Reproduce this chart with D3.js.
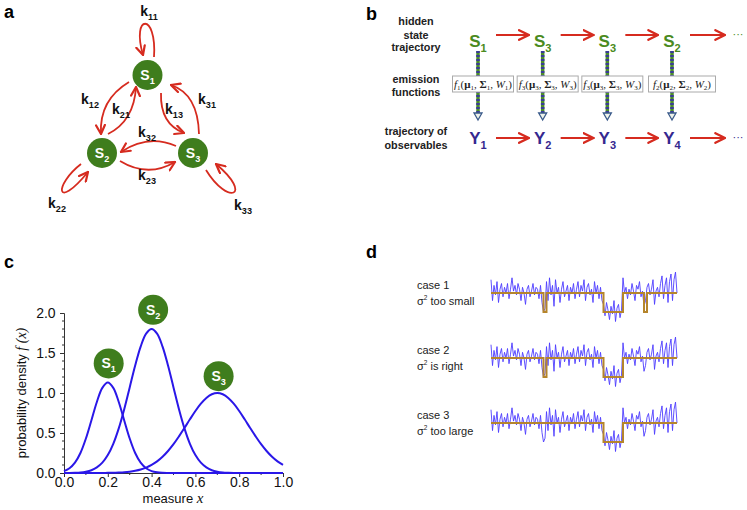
<!DOCTYPE html>
<html>
<head>
<meta charset="utf-8">
<script src="https://cdn.jsdelivr.net/npm/d3@7"></script>
<style>
body { margin: 0; background: #fff; }
svg { display: block; }
text { font-family: "Liberation Sans", Arial, sans-serif; }
</style>
</head>
<body>
<svg id="fig" width="747" height="510"></svg>
<script>
// ---- data ----
// panel a: transition rates k_ij
var rateLabels = ['11', '12', '21', '13', '31', '32', '23', '22', '33'];
// panel b: hidden states and observables
var hiddenStates = [1, 3, 3, 2];
var observables = [1, 2, 3, 4];
// panel c: emission densities (x step 0.025)
var measureX = d3.range(41).map(function(i) { return i / 40; });
var densityS1 = [0.024, 0.059, 0.129, 0.250, 0.431, 0.657, 0.888, 1.064, 1.130, 1.064,
    0.888, 0.657, 0.431, 0.250, 0.129, 0.059, 0.024, 0.009, 0.003, 0.001,
    0, 0, 0, 0, 0, 0, 0, 0, 0, 0, 0, 0, 0, 0, 0, 0, 0, 0, 0, 0, 0];
var densityS2 = [0.000, 0.001, 0.003, 0.007, 0.017, 0.035, 0.070, 0.129, 0.224, 0.365,
    0.558, 0.798, 1.070, 1.343, 1.580, 1.742, 1.800, 1.742, 1.580, 1.343,
    1.070, 0.798, 0.558, 0.365, 0.224, 0.129, 0.070, 0.035, 0.017, 0.007,
    0.003, 0.001, 0, 0, 0, 0, 0, 0, 0, 0, 0];
var densityS3 = [0, 0, 0, 0, 0, 0, 0, 0.001, 0.002, 0.003,
    0.006, 0.010, 0.017, 0.028, 0.044, 0.068, 0.101, 0.145, 0.203, 0.275,
    0.360, 0.458, 0.563, 0.671, 0.775, 0.866, 0.938, 0.984, 1.000, 0.984,
    0.938, 0.866, 0.775, 0.671, 0.563, 0.458, 0.360, 0.275, 0.203, 0.145, 0.101];
var densities = [densityS1, densityS2, densityS3];
var stateLabelPos = [[0.204, 1.37], [0.407, 2.04], [0.706, 1.21]];
var xTicks = [0, 0.2, 0.4, 0.6, 0.8, 1.0];
var yTicks = [0, 0.5, 1.0, 1.5, 2.0];
// panel d: observed trace (high state = 1, low state = 0)
var trace = [1.7, 0.6, 1.4, 0.9, 1.6, 0.5, 1.2, 1.5, 0.8, 1.3,
    1.0, 1.5, 0.7, 1.2, 1.8, 1.1, 1.4, 0.9, 1.5, 1.2,
    0.6, 1.3, 1.0, 0.4, 1.2, 1.4, 0.8, 1.1, 1.5, 0.9,
    1.3, 1.2, 0.7, 1.4, 0.5, 0.0, 0.2, 1.6, 0.6, 1.8,
    0.9, 1.4, 0.3, 1.7, 1.0, 1.3, 0.5, 1.2, 1.6, 0.8,
    1.1, 1.4, 0.6, 1.3, 1.0, 1.5, 0.7, 1.2, 1.6, 0.8,
    1.4, 1.1, 1.7, 0.6, 1.3, 1.5, 0.9, 1.2, 0.5, 1.6,
    1.0, 1.4, 0.7, 1.3, 0.6, 0.4, -0.2, 0.5, 0.1, -0.4,
    0.3, -0.1, 0.6, -0.5, 0.2, 0.4, -0.3, 0.1, 1.8, 1.0,
    1.3, 0.7, 1.2, 0.9, 1.5, 1.1, 0.6, 1.4, 1.2, 1.6,
    0.8, 1.1, 0.3, 0.6, 1.3, 1.5, 0.9, 1.2, 1.7, 0.4,
    1.1, 1.3, 0.8, 1.5, 1.9, 0.7, 1.4, 1.8, 0.5, 1.6,
    2.0, 0.6, 1.7, 2.1, 1.0];
// fitted levels as [start index, level]
var fitCase1 = [[0, 1], [35, 0], [37, 1], [75, 0], [88, 1], [102, 0], [104, 1], [124, 1]];
var fitCase2 = [[0, 1], [35, 0], [37, 1], [75, 0], [88, 1], [124, 1]];
var fitCase3 = [[0, 1], [75, 0], [88, 1], [124, 1]];
var caseFits = [fitCase1, fitCase2, fitCase3];
var caseNames = ['case 1', 'case 2', 'case 3'];
var caseNotes = [' too small', ' is right', ' too large'];

// ---- styles ----
var red = '#d62b1f';
var green = '#3f7d1d';
var greenText = '#4a8a20';
var navy = '#35288f';
var curveBlue = '#2a17e8';
var traceBlue = '#4d3cff';
var fitBrown = '#b5852c';

var svg = d3.select('#fig');
var defs = svg.append('defs');

function chevron(id, size, color) {
    defs.append('marker')
        .attr('id', id)
        .attr('viewBox', '0 0 10 10')
        .attr('refX', 9)
        .attr('refY', 5)
        .attr('markerWidth', size)
        .attr('markerHeight', size)
        .attr('markerUnits', 'userSpaceOnUse')
        .attr('orient', 'auto')
        .append('path')
        .attr('d', 'M1,1 L9,5 L1,9')
        .attr('fill', 'none')
        .attr('stroke', color)
        .attr('stroke-width', 2)
        .attr('stroke-linecap', 'round');
}
chevron('chevA', 11, red);
chevron('chevB', 12, red);

// text with a subscript
function subText(g, x, y, main, sub, size, color, weight) {
    var t = g.append('text')
        .attr('x', x)
        .attr('y', y)
        .attr('text-anchor', 'middle')
        .attr('fill', color)
        .attr('font-weight', weight || 'bold')
        .attr('font-size', size);
    t.append('tspan').text(main);
    t.append('tspan')
        .attr('font-size', size * 0.65)
        .attr('dy', size * 0.28)
        .text(sub);
    return t;
}

function panelLetter(x, y, s) {
    svg.append('text')
        .attr('x', x).attr('y', y)
        .attr('font-size', 18)
        .attr('font-weight', 'bold')
        .text(s);
}

panelLetter(4, 18, 'a');
panelLetter(366, 20, 'b');
panelLetter(4, 268, 'c');
panelLetter(366, 258, 'd');

// ---- panel a ----
var ga = svg.append('g');
var nodeX = d3.scaleLinear().domain([0, 1]).range([102, 193]);
var nodeY = d3.scaleLinear().domain([0, 1]).range([75, 153]);
var nodes = [{id: 1, u: 0.5, v: 0}, {id: 2, u: 0, v: 1}, {id: 3, u: 1, v: 1}];

var edgePaths = {
    '11': 'M154,57 C157,12 131,14 143,55',
    '12': 'M129,82 Q99,100 101,134',
    '21': 'M108,134 Q134,121 136,87',
    '13': 'M161,93 Q160,124 184,133',
    '31': 'M199,134 Q198,94 171,85',
    '32': 'M176,146 Q148,134 121,152',
    '23': 'M120,161 Q148,178 175,162',
    '22': 'M81,164 C54,185 55,212 88,172',
    '33': 'M206,170 C228,206 254,196 216,164'
};
var labelPos = {
    '11': [149, 16], '12': [90, 104], '21': [121, 114], '13': [174, 114],
    '31': [207, 104], '32': [147, 137], '23': [147, 180], '22': [57, 208], '33': [243, 210]
};

ga.selectAll('path.edge')
    .data(rateLabels)
    .join('path')
    .classed('edge', true)
    .attr('d', function(d) { return edgePaths[d]; })
    .attr('fill', 'none')
    .attr('stroke', red)
    .attr('stroke-width', 1.8)
    .attr('marker-end', 'url(#chevA)');

rateLabels.forEach(function(d) {
    subText(ga, labelPos[d][0], labelPos[d][1], 'k', d, 14, '#111');
});

var nodeG = ga.selectAll('g.node')
    .data(nodes)
    .join('g')
    .attr('transform', function(d) {
        return 'translate(' + nodeX(d.u) + ',' + nodeY(d.v) + ')';
    });
nodeG.append('circle').attr('r', 15).attr('fill', green);
nodeG.each(function(d) {
    subText(d3.select(this), 0, 5, 'S', d.id, 14, '#fff');
});

// ---- panel b ----
var gb = svg.append('g');
var colX = d3.scaleLinear().domain([0, 3]).range([478, 672]);

var leftLabels = [['hidden', 21], ['state', 35], ['trajectory', 47],
    ['emission', 79], ['functions', 92], ['trajectory of', 131], ['observables', 145]];
gb.selectAll('text.row')
    .data(leftLabels)
    .join('text')
    .classed('row', true)
    .attr('x', 416)
    .attr('y', function(d) { return d[1] + 4; })
    .attr('text-anchor', 'middle')
    .attr('font-size', 10.8)
    .attr('font-weight', 'bold')
    .attr('fill', '#222')
    .text(function(d) { return d[0]; });

// vertical emission arrows
hiddenStates.forEach(function(s, i) {
    var x = colX(i);
    gb.append('line').attr('x1', x).attr('x2', x).attr('y1', 51).attr('y2', 113)
        .attr('stroke', '#4d8f28').attr('stroke-width', 3.5);
    gb.append('line').attr('x1', x).attr('x2', x).attr('y1', 51).attr('y2', 113)
        .attr('stroke', '#3a3a9a').attr('stroke-width', 3.5).attr('stroke-dasharray', '2,2');
    gb.append('path')
        .attr('d', 'M' + (x - 4) + ',113 L' + (x + 4) + ',113 L' + x + ',120 Z')
        .attr('fill', '#eef3ea').attr('stroke', '#3a5a8a').attr('stroke-width', 1.3);
});

// emission function boxes
hiddenStates.forEach(function(s, i) {
    var w = i === 3 ? 67 : 61;
    var cx = colX(i) + (i === 3 ? 10 : 5);
    gb.append('rect')
        .attr('x', cx - w / 2).attr('y', 76).attr('width', w).attr('height', 16)
        .attr('fill', '#fff').attr('stroke', '#aaa').attr('stroke-width', 1);
    var t = gb.append('text')
        .attr('x', cx).attr('y', 87.5)
        .attr('text-anchor', 'middle')
        .attr('font-size', 11)
        .style('font-family', '"Liberation Serif", "Times New Roman", serif')
        .attr('fill', '#222');
    var shift = 0;
    function part(txt, style, weight) {
        t.append('tspan').attr('font-style', style || 'normal')
            .attr('font-weight', weight || 'normal')
            .attr('dy', -shift).text(txt);
        shift = 0;
    }
    function sub() {
        t.append('tspan').attr('font-size', 7).attr('dy', 2).text(s);
        shift = 2;
    }
    part('f', 'italic'); sub();
    part('('); part('\u03bc', 'normal', 'bold'); sub();
    part(', '); part('\u03a3', 'normal', 'bold'); sub();
    part(', '); part('W', 'italic'); sub();
    part(')');
});

// state and observable rows
function chain(labels, letter, yText, yArrow, color) {
    labels.forEach(function(v, i) {
        subText(gb, colX(i), yText, letter, v, 17, color);
        var x1 = colX(i) + 18;
        var x2 = i < labels.length - 1 ? colX(i + 1) - 14 : 725;
        gb.append('line')
            .attr('x1', x1).attr('x2', x2).attr('y1', yArrow).attr('y2', yArrow)
            .attr('stroke', red).attr('stroke-width', 2)
            .attr('marker-end', 'url(#chevB)');
    });
    gb.append('text').attr('x', 738).attr('y', yArrow + 3)
        .attr('text-anchor', 'middle').attr('font-size', 11)
        .attr('fill', color).text('\u00b7\u00b7\u00b7');
}
chain(hiddenStates, 'S', 47, 35, greenText);
chain(observables, 'Y', 144, 138, navy);

// ---- panel c ----
var gc = svg.append('g');
var x = d3.scaleLinear().domain([0, 1]).range([64, 283]);
var y = d3.scaleLinear().domain([0, 2]).range([473, 313]);

var xAxis = gc.append('g')
    .attr('transform', 'translate(0,' + y(0) + ')')
    .call(d3.axisBottom(x).tickValues(xTicks).tickFormat(d3.format('.1f')).tickSize(4));
var yAxis = gc.append('g')
    .attr('transform', 'translate(' + x(0) + ',0)')
    .call(d3.axisLeft(y).tickValues(yTicks).tickFormat(d3.format('.1f')).tickSize(4));
[xAxis, yAxis].forEach(function(a) {
    a.selectAll('text')
        .attr('font-size', 14)
        .attr('fill', '#111')
        .style('font-family', '"Liberation Sans", Arial, sans-serif');
    a.select('.domain').attr('stroke', '#333');
    a.selectAll('.tick line').attr('stroke', '#333');
});
xAxis.selectAll('text').attr('y', 4).attr('dy', '0.71em');
yAxis.selectAll('text').attr('dx', '-0.1em');

// minor ticks
gc.selectAll('line.xminor')
    .data(d3.range(0.1, 1, 0.2))
    .join('line')
    .attr('x1', function(d) { return x(d); }).attr('x2', function(d) { return x(d); })
    .attr('y1', y(0)).attr('y2', y(0) + 2)
    .attr('stroke', '#333');
gc.selectAll('line.yminor')
    .data(d3.range(0.1, 2, 0.1).filter(function(d) { return Math.abs(d * 2 - Math.round(d * 2)) > 0.01; }))
    .join('line')
    .attr('x1', x(0)).attr('x2', x(0) - 2)
    .attr('y1', function(d) { return y(d); }).attr('y2', function(d) { return y(d); })
    .attr('stroke', '#333');

var line = d3.line()
    .x(function(d, i) { return x(measureX[i]); })
    .y(function(d) { return y(d); })
    .curve(d3.curveCatmullRom);
gc.selectAll('path.dens')
    .data(densities)
    .join('path')
    .attr('d', line)
    .attr('fill', 'none')
    .attr('stroke', curveBlue)
    .attr('stroke-width', 2);

var sl = gc.selectAll('g.slab')
    .data(stateLabelPos)
    .join('g')
    .attr('transform', function(d) { return 'translate(' + x(d[0]) + ',' + y(d[1]) + ')'; });
sl.append('circle').attr('r', 15).attr('fill', green);
sl.each(function(d, i) { subText(d3.select(this), 0, 5, 'S', i + 1, 14, '#fff'); });

var xt = gc.append('text').attr('x', 173).attr('y', 503)
    .attr('text-anchor', 'middle').attr('font-size', 13).attr('fill', '#111');
xt.append('tspan').text('measure ');
xt.append('tspan').attr('font-style', 'italic')
    .style('font-family', '"Liberation Serif", serif').attr('font-size', 15).text('x');

var yt = gc.append('text')
    .attr('transform', 'translate(26,393) rotate(-90)')
    .attr('text-anchor', 'middle').attr('font-size', 13).attr('fill', '#111');
yt.append('tspan').text('probability density ');
yt.append('tspan').attr('font-style', 'italic')
    .style('font-family', '"Liberation Serif", serif').attr('font-size', 14).text('f (x)');

// ---- panel d ----
var gd = svg.append('g');
var tx = d3.scaleLinear().domain([0, trace.length - 1]).range([491, 677]);
var caseHigh = [293, 358, 423];
var unit = 19;

caseFits.forEach(function(fit, c) {
    var ty = d3.scaleLinear().domain([0, 1]).range([caseHigh[c] + unit, caseHigh[c]]);

    gd.append('path')
        .datum(trace)
        .attr('d', d3.line()
            .x(function(d, i) { return tx(i); })
            .y(function(d) { return ty(d); }))
        .attr('fill', 'none')
        .attr('stroke', traceBlue)
        .attr('stroke-width', 0.9);

    gd.append('path')
        .datum(fit)
        .attr('d', d3.line()
            .x(function(d) { return tx(d[0]); })
            .y(function(d) { return ty(d[1]); })
            .curve(d3.curveStepAfter))
        .attr('fill', 'none')
        .attr('stroke', fitBrown)
        .attr('stroke-width', 2);

    gd.append('text')
        .attr('x', 417).attr('y', caseHigh[c] - 4)
        .attr('font-size', 11).attr('fill', '#222')
        .text(caseNames[c]);
    var nt = gd.append('text')
        .attr('x', 417).attr('y', caseHigh[c] + 12)
        .attr('font-size', 11).attr('fill', '#222');
    nt.append('tspan').text('\u03c3');
    nt.append('tspan').attr('font-size', 6.5).attr('dy', -5).text('2');
    nt.append('tspan').attr('dy', 5).text(caseNotes[c]);
});
</script>
</body>
</html>
